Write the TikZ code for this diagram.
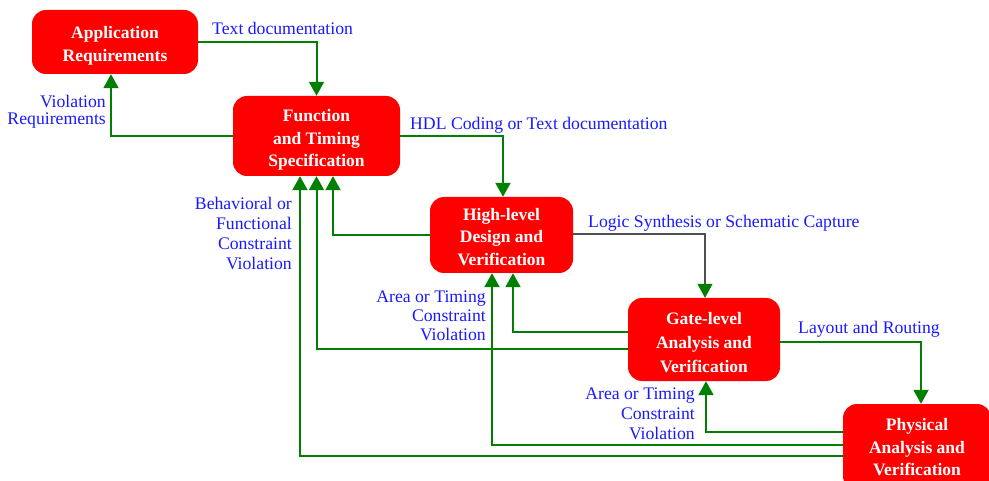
\documentclass[tikz,border=0pt]{standalone}
\usepackage{fontspec}
\setmainfont{Liberation Serif}
\usetikzlibrary{arrows.meta}
\definecolor{boxred}{RGB}{255,0,0}
\definecolor{linegreen}{RGB}{0,128,0}
\definecolor{labelblue}{RGB}{25,25,255}
\definecolor{linegray}{RGB}{80,80,80}
\begin{document}
\begin{tikzpicture}[x=1pt,y=-1pt,
  stage/.style={fill=boxred, rounded corners=14pt, inner sep=0pt},
  stagetext/.style={text=white, font=\bfseries\fontsize{17.5}{22.5}\selectfont,
    align=center, inner sep=0pt},
  tipg/.style={-{Triangle[length=14pt,width=15pt,color=linegreen]}},
  flow/.style={draw=linegreen, line width=2pt, tipg},
  lbl/.style={text=labelblue, font=\fontsize{17.7}{20}\selectfont, inner sep=0pt},
]
\useasboundingbox (0,0) rectangle (989,481);
\clip (0,0) rectangle (989,481);

% design stages
\node[stage, minimum width=166pt, minimum height=64pt] (A) at (115,42) {};
\node[stage, minimum width=167pt, minimum height=80pt] (F) at (316.5,136) {};
\node[stage, minimum width=143pt, minimum height=76pt] (H) at (501.5,235) {};
\node[stage, minimum width=152pt, minimum height=83pt] (G) at (704,339.5) {};
\node[stage, minimum width=148pt, minimum height=86pt] (P) at (917,447) {};

\node[stagetext] (At) at ([yshift=-4pt]A.center) {Application\\Requirements};
\node[stagetext] (Ft) at ([yshift=-4pt]F.center) {Function\\and Timing\\Specification};
\node[stagetext] (Ht) at ([yshift=-2pt]H.center) {High-level\\Design and\\Verification};
\node[stagetext, font=\bfseries\fontsize{17.5}{24}\selectfont] (Gt) at ([yshift=-3pt]G.center) {Gate-level\\Analysis and\\Verification};
\node[stagetext] (Pt) at ([yshift=-0.5pt]P.center) {Physical\\Analysis and\\Verification};

% forward flow
\draw[flow] (A.east) -| (F.north);
\draw[flow] (F.east) -| ([xshift=1.5pt]H.north);
\draw[draw=linegray, line width=1.3pt, tipg] ([yshift=1pt]H.east) -| ([xshift=1pt]G.north);
\draw[flow] ([yshift=-2.5pt]G.east) -| ([xshift=4pt]P.north);

% feedback loops
\draw[flow] (F.west) -| ([xshift=-4pt]A.south);
\draw[flow] (H.west) -| ([xshift=16.5pt]F.south);
\draw[flow] ([yshift=-9.5pt]G.west) -| (F.south);
\draw[flow] ([yshift=-9pt]P.west) -| ([xshift=-16.5pt]F.south);
\draw[flow] ([yshift=7.5pt]G.west) -| ([xshift=11.5pt]H.south);
\draw[flow] ([yshift=2pt]P.west) -| ([xshift=-9.5pt]H.south);
\draw[flow] ([yshift=15pt]P.west) -| ([xshift=2pt]G.south);

% labels
\node[lbl, anchor=west] (l1) at (212,28.5) {Text documentation};
\node[lbl, anchor=east, align=right, font=\fontsize{17.7}{17}\selectfont] (l2) at (106,111.5) {Violation\\Requirements};
\node[lbl, anchor=west] (l3) at (410,125.5) {HDL Coding or Text documentation};
\node[lbl, anchor=east, align=right] (l4) at (292,233.5) {Behavioral or\\Functional\\Constraint\\Violation};
\node[lbl, anchor=west] (l5) at (588,223.5) {Logic Synthesis or Schematic Capture};
\node[lbl, anchor=east, align=right, font=\fontsize{17.7}{19}\selectfont] (l6) at (486,316) {Area or Timing\\Constraint\\Violation};
\node[lbl, anchor=west] (l7) at (798,329.5) {Layout and Routing};
\node[lbl, anchor=east, align=right] (l8) at (695,414) {Area or Timing\\Constraint\\Violation};
\end{tikzpicture}
\end{document}
